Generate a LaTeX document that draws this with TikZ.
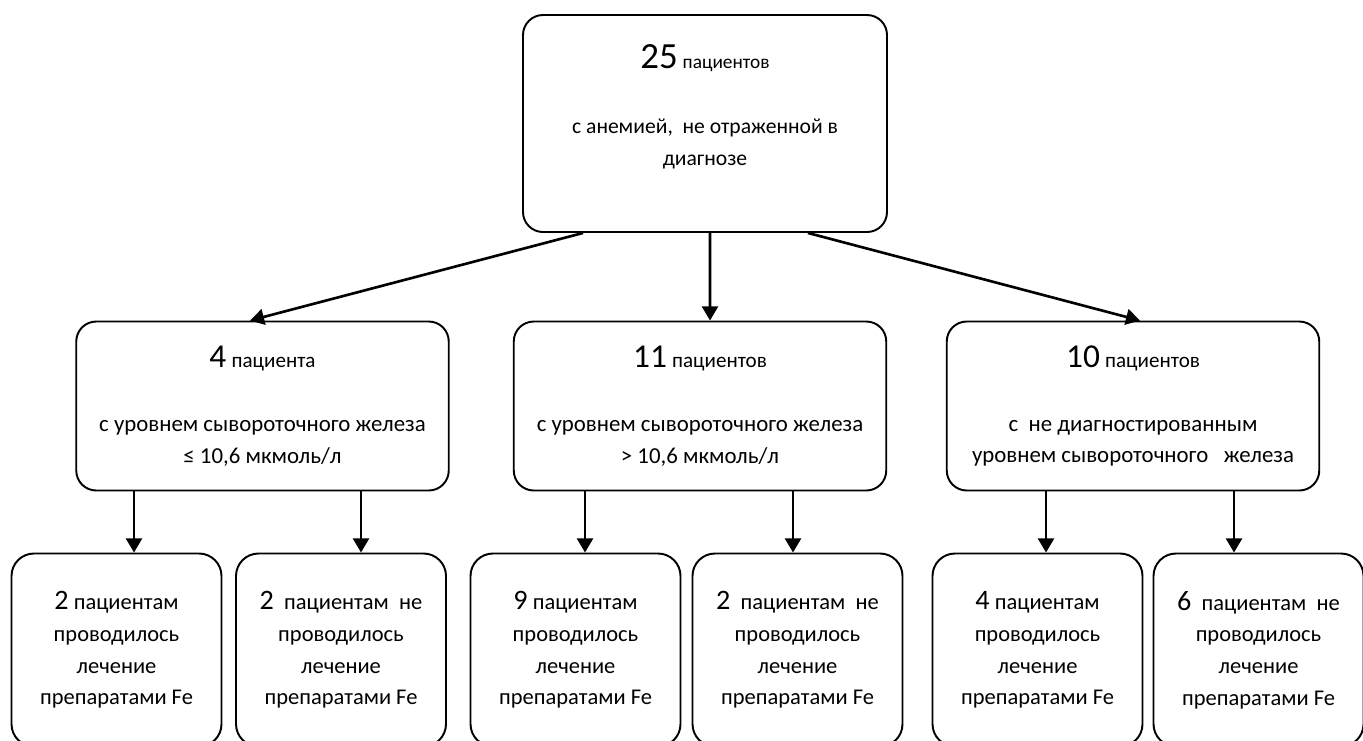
\documentclass[tikz,border=0pt]{standalone}
\usepackage{fontspec}
\setmainfont{Carlito}
\usetikzlibrary{arrows.meta}
\tikzstyle{topbox}=[draw, rounded corners=0.4cm, line width=1.1pt, minimum width=7.28cm,
minimum height=4.34cm, align=center, font=\fontsize{12.3}{18}\selectfont]
\tikzstyle{groupbox}=[draw, rounded corners=0.4cm, line width=1.1pt, minimum width=7.45cm,
minimum height=3.38cm, align=center, font=\fontsize{13}{17.8}\selectfont]
\tikzstyle{leafbox}=[draw, rounded corners=0.45cm, line width=1.1pt, minimum width=4.2cm,
minimum height=3.86cm, align=center, font=\fontsize{12.8}{18}\selectfont]
\tikzstyle{arr}=[line width=1.5pt, -{Triangle[length=8pt,width=9pt]}]
\newcommand\bigcount[2]{{\fontsize{#1}{#1}\selectfont #2}}

\begin{document}
\begin{tikzpicture}
\useasboundingbox (0,0) rectangle (27.26,-14.8);
\node[topbox](all) at (14.1,-2.47)
{\bigcount{21}{25} {\fontsize{11}{11}\selectfont пациентов}\\[19pt]
с анемией,~ не отраженной в\\ диагнозе\\[3pt]\mbox{}};
\node[groupbox](low) at (5.25,-8.12)
{\bigcount{19}{4} {\fontsize{12}{12}\selectfont пациента}\\[19pt]
с уровнем сывороточного железа\\ ≤ 10,6 мкмоль/л};
\node[groupbox](high) at (14.0,-8.12)
{\bigcount{19}{11} {\fontsize{12}{12}\selectfont пациентов}\\[19pt]
с уровнем сывороточного железа\\ > 10,6 мкмоль/л};
\node[groupbox](undiag) at (22.66,-8.12)
{\bigcount{19}{10} {\fontsize{12}{12}\selectfont пациентов}\\[19pt]
с~ не диагностированным\\ уровнем сывороточного~~ железа};
\node[leafbox](lowyes) at (2.33,-13.0)
{\bigcount{16}{2} пациентам\\ проводилось\\ лечение\\ препаратами Fe};
\node[leafbox](lowno) at (6.82,-13.0)
{\bigcount{16}{2}~ пациентам~ не\\ проводилось\\ лечение\\ препаратами Fe};
\node[leafbox](highyes) at (11.51,-13.0)
{\bigcount{16}{9} пациентам\\ проводилось\\ лечение\\ препаратами Fe};
\node[leafbox](highno) at (15.95,-13.0)
{\bigcount{16}{2}~ пациентам~ не\\ проводилось\\ лечение\\ препаратами Fe};
\node[leafbox](undiagyes) at (20.75,-13.0)
{\bigcount{16}{4} пациентам\\ проводилось\\ лечение\\ препаратами Fe};
\node[leafbox](undiagno) at (25.17,-13.0)
{\bigcount{16}{6}~ пациентам~ не\\ проводилось\\ лечение\\ препаратами Fe};
\draw[arr]([xshift=-2.44cm]all.south) -- ([xshift=-0.25cm]low.north);
\draw[arr]([xshift=0.1cm]all.south) -- ([xshift=0.2cm]high.north);
\draw[arr]([xshift=2.06cm]all.south) -- ([xshift=0.14cm]undiag.north);
\draw[arr]([xshift=-2.57cm]low.south) -- ([xshift=-2.57cm]low.south |- lowyes.north);
\draw[arr]([xshift=1.97cm]low.south) -- ([xshift=1.97cm]low.south |- lowno.north);
\draw[arr]([xshift=-2.3cm]high.south) -- ([xshift=-2.3cm]high.south |- highyes.north);
\draw[arr]([xshift=1.86cm]high.south) -- ([xshift=1.86cm]high.south |- highno.north);
\draw[arr]([xshift=-1.74cm]undiag.south) -- ([xshift=-1.74cm]undiag.south |- undiagyes.north);
\draw[arr]([xshift=2.02cm]undiag.south) -- ([xshift=2.02cm]undiag.south |- undiagno.north);
\end{tikzpicture}
\end{document}
